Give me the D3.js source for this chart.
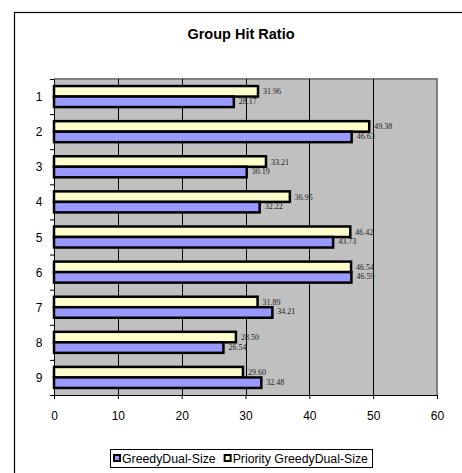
<!DOCTYPE html>
<html><head><meta charset="utf-8">
<script src="https://cdn.jsdelivr.net/npm/d3@7"></script>
<style>
html,body{margin:0;padding:0;background:#fff;}
svg{display:block;}
</style></head>
<body>
<script>
const categories = ["1","2","3","4","5","6","7","8","9"];
const seriesNames = ["Priority GreedyDual-Size","GreedyDual-Size"];
const priorityValues = [31.96,49.38,33.21,36.95,46.42,46.54,31.89,28.50,29.60];
const greedyValues = [28.17,46.63,30.19,32.22,43.73,46.59,34.21,26.54,32.48];
const xTicks = [0,10,20,30,40,50,60];
const seriesColors = {"Priority GreedyDual-Size":"#FFFFCC","GreedyDual-Size":"#9999FF"};
const legendOrder = ["GreedyDual-Size","Priority GreedyDual-Size"];

(function(){
const W=462,H=473;
const svg=d3.select("body").append("svg").attr("width",W).attr("height",H);

// outer frame
svg.append("rect").attr("x",14.5).attr("y",12.5).attr("width",520).attr("height",520)
  .attr("fill","#fff").attr("stroke","#000").attr("stroke-width",1.2);

// title
svg.append("text").attr("x",241).attr("y",39).attr("text-anchor","middle")
  .attr("font-family","Liberation Sans, Arial, sans-serif").attr("font-weight","bold")
  .attr("font-size","14.5px").text("Group Hit Ratio");

const pL=54,pR=437,pT=79,pB=395;
const x=d3.scaleLinear().domain([0,60]).range([pL,pR]);
const y=d3.scaleBand().domain(categories).range([pT,pB]).padding(0);
const ys=d3.scaleBand().domain(seriesNames).range([0,y.bandwidth()]).paddingInner(0).paddingOuter(0.67);

// plot background
svg.append("rect").attr("x",pL).attr("y",pT).attr("width",pR-pL).attr("height",pB-pT)
  .attr("fill","#C0C0C0");
// gray top/right border
svg.append("path").attr("d",`M${pL},${pT}H${pR}V${pB}`).attr("fill","none")
  .attr("stroke","#808080").attr("stroke-width",2);

// gridlines
svg.append("g").selectAll("line").data(xTicks.filter(d=>d>0&&d<60)).join("line")
  .attr("x1",d=>Math.round(x(d))+0.5).attr("x2",d=>Math.round(x(d))+0.5)
  .attr("y1",pT).attr("y2",pB).attr("stroke","#000").attr("stroke-width",1);

const rows=categories.map((c,i)=>({cat:c,vals:[
  {s:seriesNames[0],v:priorityValues[i]},{s:seriesNames[1],v:greedyValues[i]}]}));

const g=svg.append("g");
const grp=g.selectAll("g").data(rows).join("g").attr("transform",d=>`translate(0,${y(d.cat)})`);
grp.selectAll("rect").data(d=>d.vals).join("rect")
  .attr("x",x(0)).attr("y",d=>ys(d.s)).attr("width",d=>x(d.v)-x(0)).attr("height",ys.bandwidth())
  .attr("fill",d=>seriesColors[d.s]).attr("stroke","#000").attr("stroke-width",2.5);
grp.selectAll("text").data(d=>d.vals).join("text")
  .attr("x",d=>x(d.v)+5).attr("y",(d,i)=>ys(d.s)+ys.bandwidth()/2+(i===0?3:2))
  .attr("font-family","Liberation Serif, Times New Roman, serif").attr("font-size","8px")
  .attr("fill","#222").text(d=>d.v.toFixed(2));

// axes
const xAxis=d3.axisBottom(x).tickValues(xTicks).tickSize(4).tickSizeOuter(0).tickPadding(12);
const xa=svg.append("g").attr("transform",`translate(0,${pB})`).call(xAxis);
const yAxis=d3.axisLeft(d3.scaleLinear().domain([0,9]).range([pT,pB])).ticks(9).tickSize(4).tickSizeOuter(0).tickFormat("");
const ya=svg.append("g").attr("transform",`translate(${pL},0)`).call(yAxis);
[xa,ya].forEach(a=>{a.selectAll("path,line").attr("stroke","#000");});
xa.selectAll("text").attr("font-family","Liberation Sans, Arial, sans-serif").attr("font-size","12px").attr("fill","#000");
svg.append("g").selectAll("text").data(categories).join("text")
  .attr("x",42.5).attr("y",d=>y(d)+y.bandwidth()/2+4.5).attr("text-anchor","end")
  .attr("font-family","Liberation Sans, Arial, sans-serif").attr("font-size","12px").text(d=>d);

// legend
const lg=svg.append("g");
lg.append("rect").attr("x",110.5).attr("y",449.5).attr("width",262).attr("height",18)
  .attr("fill","#fff").attr("stroke","#000").attr("stroke-width",1);
let lx=114;
legendOrder.forEach(s=>{
  lg.append("rect").attr("x",lx).attr("y",455).attr("width",6).attr("height",6)
    .attr("fill",seriesColors[s]).attr("stroke","#000").attr("stroke-width",2);
  const t=lg.append("text").attr("x",lx+8).attr("y",463).attr("font-family","Liberation Sans, Arial, sans-serif")
    .attr("font-size","12.3px").text(s);
  lx=lx+8+t.node().getComputedTextLength()+9;
});
})();
</script>
</body></html>
